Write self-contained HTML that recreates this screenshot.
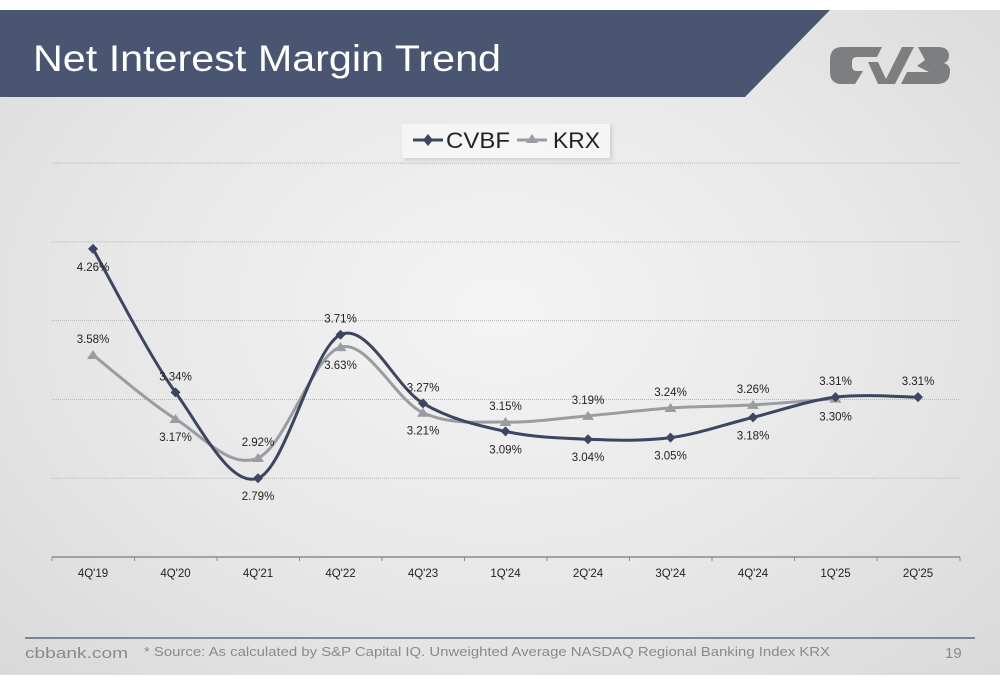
<!DOCTYPE html>
<html><head><meta charset="utf-8"><style>
body{margin:0;width:1000px;height:685px;background:#fff;overflow:hidden;font-family:"Liberation Sans",sans-serif}
#slide{position:absolute;left:0;top:10px;width:1000px;height:665px;background:radial-gradient(ellipse at 50% 45%,#f4f4f4 0%,#e6e6e6 60%,#d9d9d9 100%)}
</style></head><body>
<div id="slide">
<svg width="1000" height="665" viewBox="0 10 1000 665" style="position:absolute;left:0;top:0" id="chart">
<polygon points="0,10 830,10 745,97 0,97" fill="#4a5571"/>
<text x="33" y="71" font-size="37" fill="#fff" textLength="468" lengthAdjust="spacingAndGlyphs">Net Interest Margin Trend</text>
<g fill="#7d7e80">
<path d="M842,47 h40 l-5,10 h-20 q-5,0 -5,5 v4 q0,5 5,5 h6 l-8,13 h-13 q-12,0 -12,-12 v-12 q0,-13 12,-13z"/>
<path d="M868,62 h10 l8,17 l16,-32 h12 l-19,37 h-17z"/>
<path d="M918,47 h20 q11,0 11,9 q0,5 -5,7 q6,2 6,8 q0,13 -13,13 h-36 l6,-12 h22 l-12,-6 l8,-6z"/>
</g>
<g>
<rect x="402" y="124" width="208" height="34" fill="#fff" opacity="0.5" filter="drop-shadow(2px 2px 2px #aaa)"/>
<line x1="413" y1="140" x2="443" y2="140" stroke="#3d4660" stroke-width="3"/>
<path d="M428,134 l5,6 l-5,6 l-5,-6z" fill="#3d4660"/>
<text x="446" y="148" font-size="22" fill="#222" textLength="64" lengthAdjust="spacingAndGlyphs">CVBF</text>
<line x1="517" y1="140" x2="547" y2="140" stroke="#9a9ca2" stroke-width="3"/>
<path d="M532,134 l6,9 h-12z" fill="#9a9ca2"/>
<text x="553" y="148" font-size="22" fill="#222" textLength="47" lengthAdjust="spacingAndGlyphs">KRX</text>
</g>
<g id="grid"></g><g id="series"></g><g id="labels"></g>
<line x1="25" y1="638" x2="975" y2="638" stroke="#5a6a8a" stroke-width="1.5"/>
<text x="25" y="658" font-size="15" fill="#8a8a8a" textLength="103" lengthAdjust="spacingAndGlyphs">cbbank.com</text>
<text x="144" y="656" font-size="12.5" fill="#8a8a8a" textLength="686" lengthAdjust="spacingAndGlyphs">* Source: As calculated by S&amp;P Capital IQ. Unweighted Average NASDAQ Regional Banking Index KRX</text>
<text x="945" y="658" font-size="15" fill="#8a8a8a">19</text>
</svg>
</div>
<script>
const categories=["4Q'19","4Q'20","4Q'21","4Q'22","4Q'23","1Q'24","2Q'24","3Q'24","4Q'24","1Q'25","2Q'25"];
const cvbf=[4.26,3.34,2.79,3.71,3.27,3.09,3.04,3.05,3.18,3.31,3.31];
const krx=[3.58,3.17,2.92,3.63,3.21,3.15,3.19,3.24,3.26,3.30];
const yMin=2.285,yStep=0.505,gridCount=5;
const cvbfLabelAbove=[false,true,false,true,true,false,false,false,false,true,true];
const krxLabelAbove=[true,false,true,false,false,true,true,true,true,false];
const NS="http://www.w3.org/2000/svg";
function x(i){return 93+i*82.5;}
function y(v){return 557-(v-yMin)*156;}
function mk(t,a,p){const e=document.createElementNS(NS,t);for(const k in a)e.setAttribute(k,a[k]);p.appendChild(e);return e;}
const grid=document.getElementById('grid');
for(let g=1;g<=gridCount;g++){const yy=y(yMin+g*yStep);
const l=mk('line',{x1:52,x2:960,y1:yy,y2:yy,stroke:'#b5b5b5','stroke-dasharray':'1,1'},grid);

}
const ax=mk('line',{x1:52,x2:960,y1:y(yMin),y2:y(yMin),stroke:'#8c8c8c','stroke-width':1.5},grid);


categories.forEach((c,i)=>{
const tx=52+i*82.5;mk('line',{x1:tx,x2:tx,y1:y(yMin),y2:y(yMin)+4,stroke:'#8c8c8c'},grid);
const t=mk('text',{x:x(i),y:y(yMin)+20,'font-size':11.5,'text-anchor':'middle',fill:'#222'},grid);t.textContent=c;

});
mk('line',{x1:960,x2:960,y1:y(yMin),y2:y(yMin)+4,stroke:'#8c8c8c'},grid);
function path(vals){const p=vals.map((v,i)=>[x(i),y(v)]);let d=`M${p[0][0]},${p[0][1]}`;
for(let i=0;i<p.length-1;i++){const p0=p[i-1]||p[i],p1=p[i],p2=p[i+1],p3=p[i+2]||p2;
d+=` C${p1[0]+(p2[0]-p0[0])/6},${p1[1]+(p2[1]-p0[1])/6} ${p2[0]-(p3[0]-p1[0])/6},${p2[1]-(p3[1]-p1[1])/6} ${p2[0]},${p2[1]}`;}return d;}
const S=document.getElementById('series'),L=document.getElementById('labels');
function draw(vals,col,name,shape,above){
const pl=mk('path',{d:path(vals),fill:'none',stroke:col,'stroke-width':3},S);


vals.forEach((v,i)=>{const cx=x(i),cy=y(v);
const m=mk('path',{d:shape==='d'?`M${cx},${cy-5}l5,5l-5,5l-5,-5z`:`M${cx},${cy-5}l6,9h-12z`,fill:col},S);


const t=mk('text',{x:cx,y:above[i]?cy-12:cy+22,'font-size':11.5,'text-anchor':'middle',fill:'#222'},L);
t.textContent=v.toFixed(2)+'%';

});}
draw(krx,'#9a9ca2','krx','t',krxLabelAbove);
draw(cvbf,'#3d4660','cvbf','d',cvbfLabelAbove);
</script>
</body></html>
